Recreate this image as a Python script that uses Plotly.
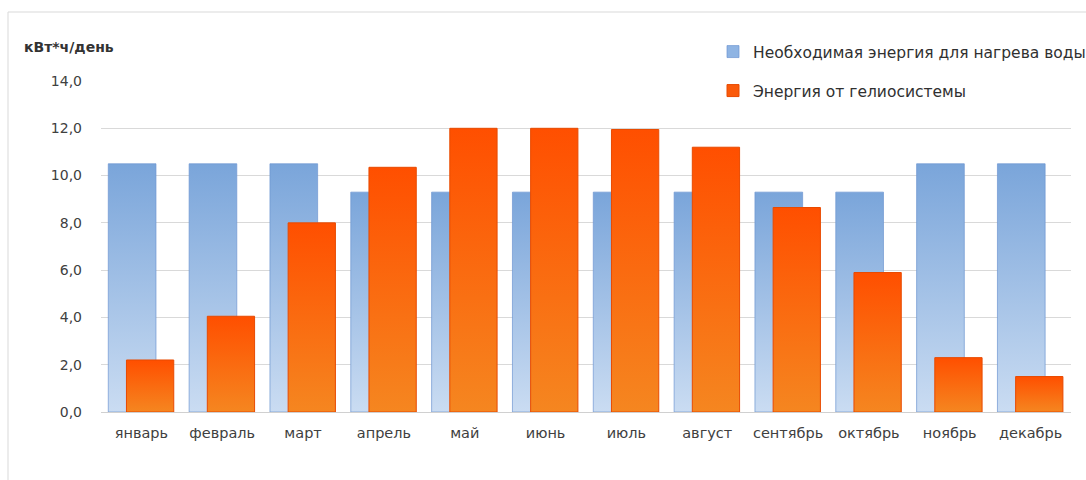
import plotly.graph_objects as go

months = ["январь", "февраль", "март", "апрель", "май", "июнь",
          "июль", "август", "сентябрь", "октябрь", "ноябрь", "декабрь"]
need_energy = [10.5, 10.5, 10.5, 9.3, 9.3, 9.3, 9.3, 9.3, 9.3, 9.3, 10.5, 10.5]
solar_energy = [2.2, 4.05, 8.0, 10.35, 12.0, 12.0, 11.95, 11.2, 8.65, 5.9, 2.3, 1.5]
name_need = "Необходимая энергия для нагрева воды"
name_solar = "Энергия от гелиосистемы"
y_title = "кВт*ч/день"
y_ticks = [0, 2, 4, 6, 8, 10, 12, 14]

W, H = 1086, 480
ML, MR, MT, MB = 101, 15, 81, 68
pw, ph = W - ML - MR, H - MT - MB

def px(x):
    return (x - ML) / pw

def py(y):
    return (H - MB - y) / ph

font_fam = "DejaVu Sans"
txt = "#404040"

fig = go.Figure()
fig.add_trace(go.Bar(
    x=months, y=need_energy, name=name_need,
    width=0.59, offset=-0.41,
    marker=dict(color="#8FB4E3", line=dict(color="rgba(110,150,210,0.7)", width=1)),
    legend="legend",
))
fig.add_trace(go.Bar(
    x=months, y=solar_energy, name=name_solar,
    width=0.585, offset=-0.185,
    marker=dict(color="#FA5A0A", line=dict(color="#E84A00", width=1)),
    legend="legend2",
))

fig.update_layout(
    width=W, height=H,
    margin=dict(l=ML, r=MR, t=MT, b=MB, autoexpand=False),
    barmode="overlay",
    paper_bgcolor="white", plot_bgcolor="white",
    separators=", ",
    font=dict(family=font_fam, size=14, color=txt),
    xaxis=dict(
        type="category", showgrid=False, showline=True, linecolor="#D0D0D0",
        linewidth=1, ticks="", tickfont=dict(size=14.5, color=txt),
        ticklabelstandoff=8, range=[-0.5, 11.5],
    ),
    yaxis=dict(
        range=[0, 14.001], tickvals=y_ticks, tickformat=".1f",
        showgrid=True, gridcolor="#D9D9D9", gridwidth=1, zeroline=False,
        ticks="", tickfont=dict(size=14, color=txt), ticklabelstandoff=18,
    ),
    legend=dict(
        x=px(713), y=py(35), xanchor="left", yanchor="top",
        bgcolor="rgba(0,0,0,0)", font=dict(size=15.5, color="#303030"),
        itemwidth=30,
    ),
    legend2=dict(
        x=px(713), y=py(74), xanchor="left", yanchor="top",
        bgcolor="rgba(0,0,0,0)", font=dict(size=15.5, color="#303030"),
        itemwidth=30,
    ),
    showlegend=True,
    annotations=[dict(
        text="<b>" + y_title + "</b>", xref="paper", yref="paper",
        x=px(22), y=py(47), xanchor="left", yanchor="middle",
        showarrow=False, font=dict(size=14, color="#333333", family=font_fam),
    )],
    shapes=[dict(
        type="rect", xref="paper", yref="paper",
        x0=px(8), y0=py(490), x1=px(1095), y1=py(12),
        line=dict(color="#D9D9D9", width=1), fillcolor="rgba(0,0,0,0)", layer="below",
    )],
)

js = """
var gd = document.getElementById('{plot_id}');
function applyGrad(){
  var svg = gd.querySelector('.main-svg');
  var defs = svg.querySelector('defs');
  var ns = 'http://www.w3.org/2000/svg';
  function grad(id, top, bot){
    if (document.getElementById(id)) return;
    var g = document.createElementNS(ns, 'linearGradient');
    g.setAttribute('id', id);
    g.setAttribute('x1', '0'); g.setAttribute('y1', '0');
    g.setAttribute('x2', '0'); g.setAttribute('y2', '1');
    [[0, top], [1, bot]].forEach(function(s){
      var st = document.createElementNS(ns, 'stop');
      st.setAttribute('offset', s[0]);
      st.setAttribute('stop-color', s[1]);
      g.appendChild(st);
    });
    defs.appendChild(g);
  }
  grad('gBlue', '#7AA5DA', '#CADCF2');
  grad('gOrange', '#FF4F00', '#F58620');
  var traces = gd.querySelectorAll('.barlayer .trace');
  if (traces.length > 1) {
    traces[0].querySelectorAll('path').forEach(function(p){ p.style.fill = 'url(#gBlue)'; });
    traces[1].querySelectorAll('path').forEach(function(p){ p.style.fill = 'url(#gOrange)'; });
  }
}
applyGrad();
gd.on('plotly_afterplot', applyGrad);
"""

fig.write_html("out.html", post_script=js)
